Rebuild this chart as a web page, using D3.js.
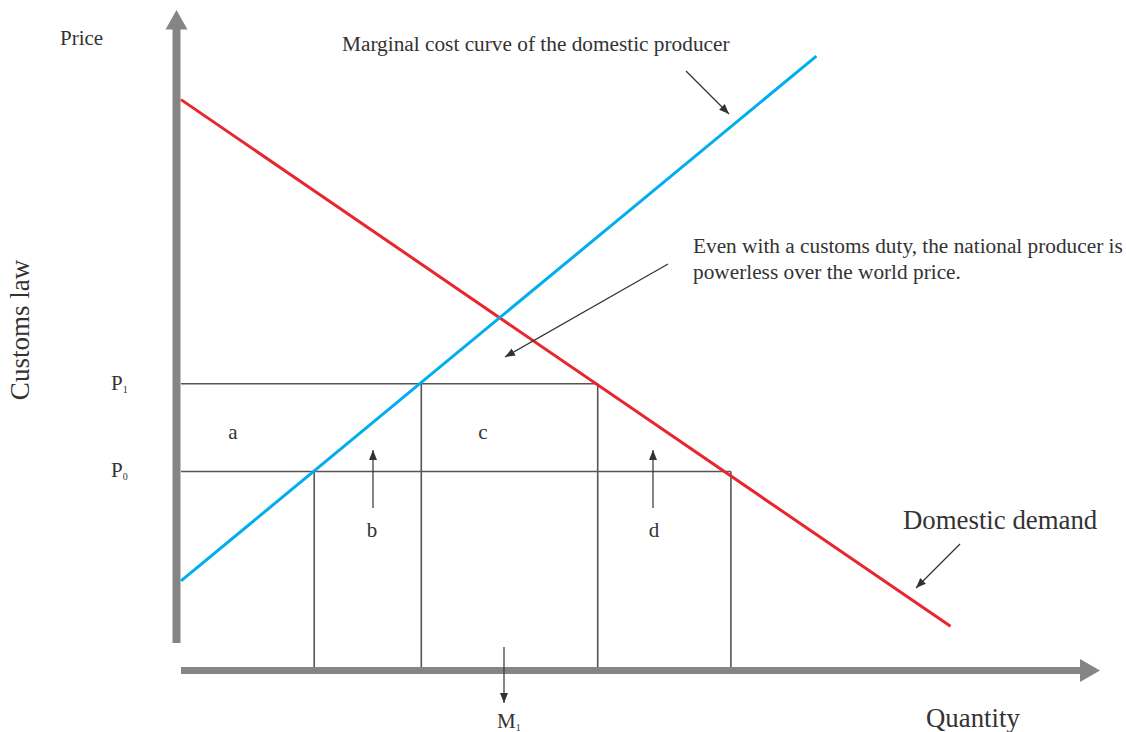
<!DOCTYPE html>
<html><head><meta charset="utf-8">
<script src="https://cdn.jsdelivr.net/npm/d3@7"></script>
<style>
html,body{margin:0;padding:0;background:#fff;}
svg text{font-family:"Liberation Serif","Times New Roman",serif;fill:#333;}
</style></head>
<body>
<svg id="chart" width="1126" height="732"></svg>
<script>
// ---- data (quantity / price units) ----
const demandCurve = [{q:0,p:89.2},{q:85.5,p:6.9}];
const supplyCurve = [{q:0,p:14.0},{q:70.6,p:96.0}];
const priceLevels = [{name:"P1",p:44.8,qEnd:46.3},{name:"P0",p:31.1,qEnd:61.1}];
const quantityMarks = [{q:14.8,p:31.1},{q:26.7,p:44.8},{q:46.3,p:44.8},{q:61.1,p:31.1}];
const areaLabels = ["a","b","c","d"];
const priceLabels = ["P","P"];
const priceSubs = ["1","0"];

const svg = d3.select("#chart");
const x = d3.scaleLinear().domain([0,100]).range([181,1081]);
const y = d3.scaleLinear().domain([0,100]).range([670.5,30.5]);

const grey = "#858585", dark = "#555";

const defs = svg.append("defs");
defs.append("marker").attr("id","ah").attr("viewBox","0 0 10 10")
  .attr("refX",10).attr("refY",5).attr("markerWidth",10).attr("markerHeight",10)
  .attr("markerUnits","userSpaceOnUse").attr("orient","auto")
  .append("path").attr("d","M0,1 L10,5 L0,9 Z").attr("fill","#333");

// axes
svg.append("rect").attr("x",172.5).attr("y",28).attr("width",8).attr("height",643-28).attr("fill",grey);
svg.append("path").attr("d","M165.5,29.5 L176.5,10 L187.5,29.5 Z").attr("fill",grey);
svg.append("rect").attr("x",181).attr("y",667).attr("width",900).attr("height",7).attr("fill",grey);
svg.append("path").attr("d","M1080,659 L1100,670.5 L1080,682 Z").attr("fill",grey);

svg.selectAll(".plev").data(priceLevels).join("line")
  .attr("x1",x(0)).attr("x2",d=>x(d.qEnd)).attr("y1",d=>y(d.p)).attr("y2",d=>y(d.p))
  .attr("stroke",dark).attr("stroke-width",1.6);
svg.selectAll(".qm").data(quantityMarks).join("line")
  .attr("x1",d=>x(d.q)).attr("x2",d=>x(d.q)).attr("y1",d=>y(d.p)).attr("y2",667)
  .attr("stroke",dark).attr("stroke-width",1.6);

const line = d3.line().x(d=>x(d.q)).y(d=>y(d.p));
svg.append("path").datum(demandCurve).attr("d",line).attr("stroke","#e8262d").attr("stroke-width",3).attr("fill","none");
svg.append("path").datum(supplyCurve).attr("d",line).attr("stroke","#00aeef").attr("stroke-width",3).attr("fill","none");

const arrows = [[686,71,729,114],[668,264,505,357],[373,508,373,450],[653,508,653,450],[504,647,504,703],[960,544,916,588]];
svg.selectAll(".arr").data(arrows).join("line")
  .attr("x1",d=>d[0]).attr("y1",d=>d[1]).attr("x2",d=>d[2]).attr("y2",d=>d[3])
  .attr("stroke","#333").attr("stroke-width",1.2).attr("marker-end","url(#ah)");

function t(txt,xx,yy,size,anchor){return svg.append("text").attr("x",xx).attr("y",yy).attr("font-size",size).attr("text-anchor",anchor||"start").text(txt);}
t("Price",60,45,21);
t("Marginal cost curve of the domestic producer",342,51,21.3);
t("Even with a customs duty, the national producer is",693,253,21.3);
t("powerless over the world price.",693,279,21.3);
t("Domestic demand",903,529,26.8);
t("Quantity",926,727,26.8);
svg.append("text").attr("transform","translate(29,330) rotate(-90)").attr("text-anchor","middle").attr("font-size",27).text("Customs law");

const areaPos = [[233,439],[372,537],[483,439],[654,537]];
areaLabels.forEach((l,i)=>t(l,areaPos[i][0],areaPos[i][1],21,"middle"));

priceLevels.forEach((d,i)=>{
  const tx = svg.append("text").attr("x",111).attr("y",y(d.p)+6).attr("font-size",21);
  tx.append("tspan").text(priceLabels[i]);
  tx.append("tspan").attr("font-size",10).attr("dy",3).text(priceSubs[i]);
});
const m = svg.append("text").attr("x",497).attr("y",728).attr("font-size",21);
m.append("tspan").text("M");
m.append("tspan").attr("font-size",10).attr("dy",3).text("1");
</script>
</body></html>
